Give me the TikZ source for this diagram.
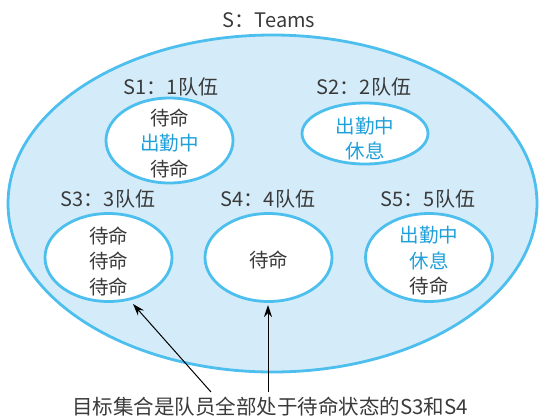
\documentclass[tikz,border=0pt]{standalone}
\usepackage{fontspec}
\setmainfont{Noto Sans CJK SC}
\usetikzlibrary{shapes.geometric,arrows.meta}
\definecolor{fillblue}{HTML}{D4ECF9}
\definecolor{lineblue}{HTML}{4DBFEE}
\definecolor{txtblue}{HTML}{1FA0DA}
\definecolor{txtgray}{HTML}{3A3A3A}
\begin{document}
\begin{tikzpicture}[x=1pt,y=-1pt,
  setshape/.style={ellipse, draw=lineblue, line width=2.8pt, inner sep=0pt},
  subset/.style={setshape, fill=white, minimum width=127, minimum height=88},
  lbl/.style={font=\fontsize{20}{24}\selectfont, text=txtgray, inner sep=0pt},
  mem/.style={font=\fontsize{19.5}{25.5}\selectfont, text=txtgray, align=center, inner sep=0pt},
  arr/.style={-{Stealth[length=12pt,width=8pt]}, line width=1pt, black}]
\useasboundingbox (0,0) rectangle (539,416);
% outer set
\node[setshape, fill=fillblue, minimum width=529, minimum height=337] (S) at (272.5,203.5) {};
\node[lbl] (Slbl) at (269,20) {S：Teams};
% subsets
\node[subset, minimum height=85] (s1) at (169.5,140.5) {};
\node[subset, minimum width=126, minimum height=61] (s2) at (365,133.5) {};
\node[subset] (s3) at (108.5,257.5) {};
\node[subset] (s4) at (268.5,257.5) {};
\node[subset] (s5) at (429,257.5) {};
% labels
\node[lbl] (l1) at (171,87) {S1：1队伍};
\node[lbl] (l2) at (364,87) {S2：2队伍};
\node[lbl] (l3) at (108,199) {S3：3队伍};
\node[lbl] (l4) at (268,199) {S4：4队伍};
\node[lbl] (l5) at (428,199) {S5：5队伍};
% members
\node[mem] (m1) at (169.5,143) {待命\\\textcolor{txtblue}{出勤中}\\待命};
\node[mem, text=txtblue] (m2) at (365,138.5) {出勤中\\休息};
\node[mem] (m3) at (108.5,261) {待命\\待命\\待命};
\node[mem] (m4) at (268.5,260) {待命};
\node[mem] (m5) at (429,261) {\textcolor{txtblue}{出勤中}\\\textcolor{txtblue}{休息}\\待命};
% caption and arrows
\node[lbl, font=\fontsize{20.5}{24}\selectfont] (cap) at (270,407) {目标集合是队员全部处于待命状态的S3和S4};
\coordinate (c1) at (211,392);
\coordinate (c2) at (268,392);
\coordinate (t1) at (133,304);
\coordinate (t2) at (268,305);
\draw[arr] (c1) -- (t1);
\draw[arr] (c2) -- (t2);
\end{tikzpicture}
\end{document}
